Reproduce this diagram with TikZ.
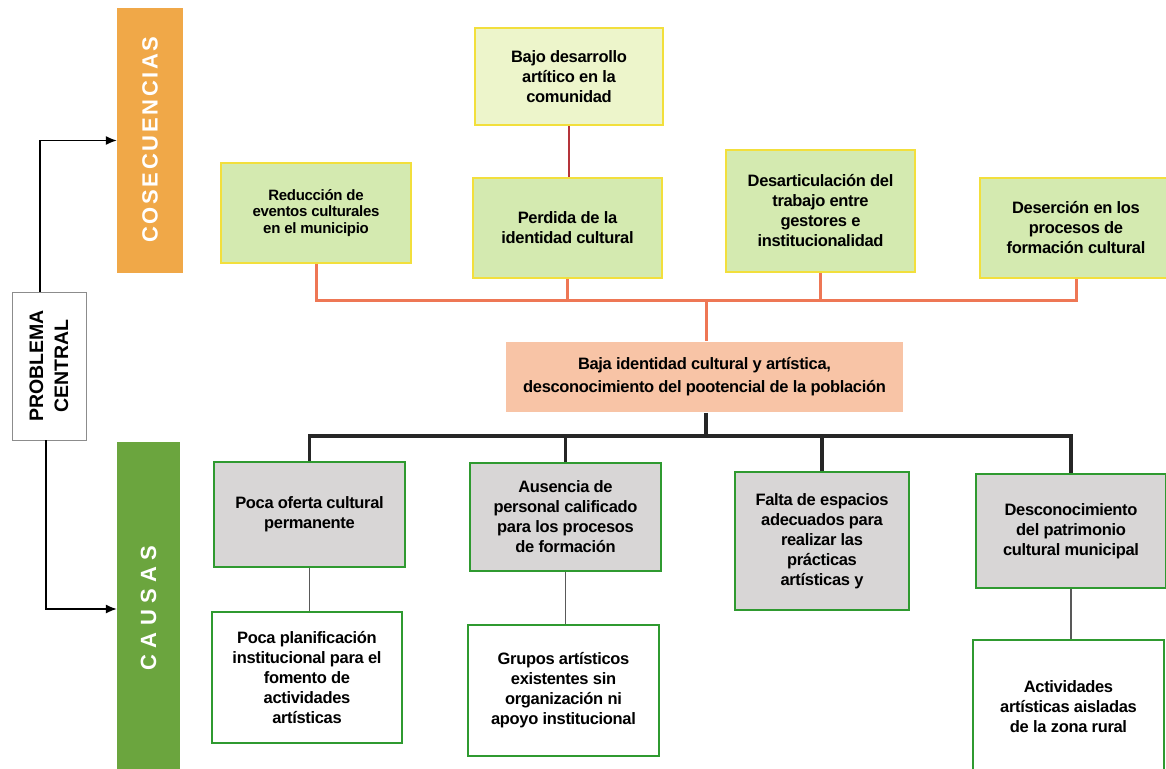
\documentclass[tikz,border=0pt]{standalone}
\usepackage{fontspec}
\setmainfont{Liberation Sans}
\newfontfamily\boxfont[LetterSpace=-2]{Liberation Sans}
\newfontfamily\barfontA[LetterSpace=12]{Liberation Sans}
\newfontfamily\barfontB[LetterSpace=29]{Liberation Sans}
\usetikzlibrary{arrows.meta}
\definecolor{orangebar}{RGB}{240,168,72}
\definecolor{greenbar}{RGB}{107,165,62}
\definecolor{consfill}{RGB}{212,234,176}
\definecolor{topfill}{RGB}{237,245,203}
\definecolor{yelborder}{RGB}{242,223,60}
\definecolor{salmon}{RGB}{248,196,166}
\definecolor{causefill}{RGB}{216,214,214}
\definecolor{greenborder}{RGB}{47,154,48}
\definecolor{orline}{RGB}{238,119,85}
\definecolor{redline}{RGB}{181,52,58}
\begin{document}
\begin{tikzpicture}[x=1pt,y=-1pt,
  box/.style={rectangle, inner sep=2pt, align=center, text=black, line width=1.6pt,
    font=\boxfont\bfseries\fontsize{16.5}{20}\selectfont},
  conbox/.style={box, fill=consfill, draw=yelborder},
  topbox/.style={box, fill=topfill, draw=yelborder},
  causebox/.style={box, fill=causefill, draw=greenborder},
  subbox/.style={box, fill=white, draw=greenborder},
  midbox/.style={box, fill=salmon, draw=none, font=\boxfont\bfseries\fontsize{16.5}{23}\selectfont},
  orconn/.style={draw=orline, line width=3pt},
  redconn/.style={draw=redline, line width=2pt},
  blkconn/.style={draw=black!85, line width=3.5pt},
  grayconn/.style={draw=black!65, line width=1.5pt},
  arr/.style={draw=black, line width=1.3pt, -{Latex[length=11pt,width=9pt]}},
  bartext/.style={rotate=90, text=white, inner sep=0pt}
]
\clip (0,0) rectangle (1166,768);
\fill[white] (0,0) rectangle (1166,768);

% side bars
\node[fill=orangebar, minimum width=66, minimum height=265, inner sep=0pt] (cos) at (150,140.5) {};
\node[bartext, font=\barfontA\bfseries\fontsize{22}{22}\selectfont] (costxt) at ([yshift=1]cos.center) {COSECUENCIAS};
\node[fill=greenbar, minimum width=63, minimum height=334, inner sep=0pt] (cau) at (148.5,609) {};
\node[bartext, font=\barfontB\bfseries\fontsize{22}{22}\selectfont] (cautxt) at ([yshift=1]cau.center) {CAUSAS};

% problema central
\node[draw=black!45, line width=0.8pt, fill=white, minimum width=74, minimum height=148, inner sep=0pt] (pc) at (49,366) {};
\node[rotate=90, align=center, inner sep=0pt, font=\bfseries\fontsize{19.5}{25}\selectfont] (pct) at (pc.center) {PROBLEMA\\CENTRAL};
\draw[arr] ([xshift=-9]pc.north) |- (cos.west);
\draw[arr] ([xshift=-3]pc.south) |- (cau.west);

% consecuencias
\node[topbox, minimum width=188, minimum height=97] (top) at (569,76.5) {Bajo desarrollo\\artítico en la\\comunidad};
\node[conbox, minimum width=190, minimum height=100, font=\boxfont\bfseries\fontsize{15}{16.5}\selectfont] (red) at (316,213) {Reducción de\\eventos culturales\\en el municipio};
\node[conbox, minimum width=189, minimum height=100] (perd) at (567.5,228) {Perdida de la\\identidad cultural};
\node[conbox, minimum width=189, minimum height=122] (desa) at (820.5,211) {Desarticulación del\\trabajo entre\\gestores e\\institucionalidad};
\node[conbox, minimum width=192, minimum height=100] (dese) at (1076,228) {Deserción en los\\procesos de\\formación cultural};

% central problem
\node[midbox, minimum width=397, minimum height=70] (mid) at (704.5,377) {Baja identidad cultural y artística,\\desconocimiento del pootencial de la población};

% causas
\node[causebox, minimum width=191, minimum height=105] (c1) at (309.5,514.5) {Poca oferta cultural\\permanente};
\node[causebox, minimum width=191, minimum height=108] (c2) at (565.5,517) {Ausencia de\\personal calificado\\para los procesos\\de formación};
\node[causebox, minimum width=174, minimum height=138] (c3) at (822,541) {Falta de espacios\\adecuados para\\realizar las\\prácticas\\artísticas y};
\node[causebox, minimum width=190, minimum height=114] (c4) at (1071,531) {Desconocimiento\\del patrimonio\\cultural municipal};

\node[subbox, minimum width=190, minimum height=131] (s1) at (307,677.5) {Poca planificación\\institucional para el\\fomento de\\actividades\\artísticas};
\node[subbox, minimum width=191, minimum height=131] (s2) at (563.5,690.5) {Grupos artísticos\\existentes sin\\organización ni\\apoyo institucional};
\node[subbox, minimum width=191, minimum height=134] (s4) at (1068.5,707) {Actividades\\artísticas aisladas\\de la zona rural};

% connectors: consequences
\coordinate (ob) at (706,300);
\draw[redconn] (top.south) -- (top.south |- perd.north);
\draw[orconn] (red.south) -- (red.south |- ob) -- (dese.south |- ob) -- (dese.south);
\draw[orconn] (perd.south) -- (perd.south |- ob);
\draw[orconn] (desa.south) -- (desa.south |- ob);
\draw[orconn] (ob) -- (ob |- mid.north);

% connectors: causes
\coordinate (kb) at (706,436);
\draw[blkconn] (mid.south -| kb) -- (kb);
\draw[blkconn] (c1.north) -- (c1.north |- kb) -- (c4.north |- kb) -- (c4.north);
\draw[blkconn] (c2.north) -- (c2.north |- kb);
\draw[blkconn] (c3.north) -- (c3.north |- kb);

\draw[grayconn] (c1.south) -- (c1.south |- s1.north);
\draw[grayconn] (c2.south) -- (c2.south |- s2.north);
\draw[grayconn] (c4.south) -- (c4.south |- s4.north);
\end{tikzpicture}
\end{document}
